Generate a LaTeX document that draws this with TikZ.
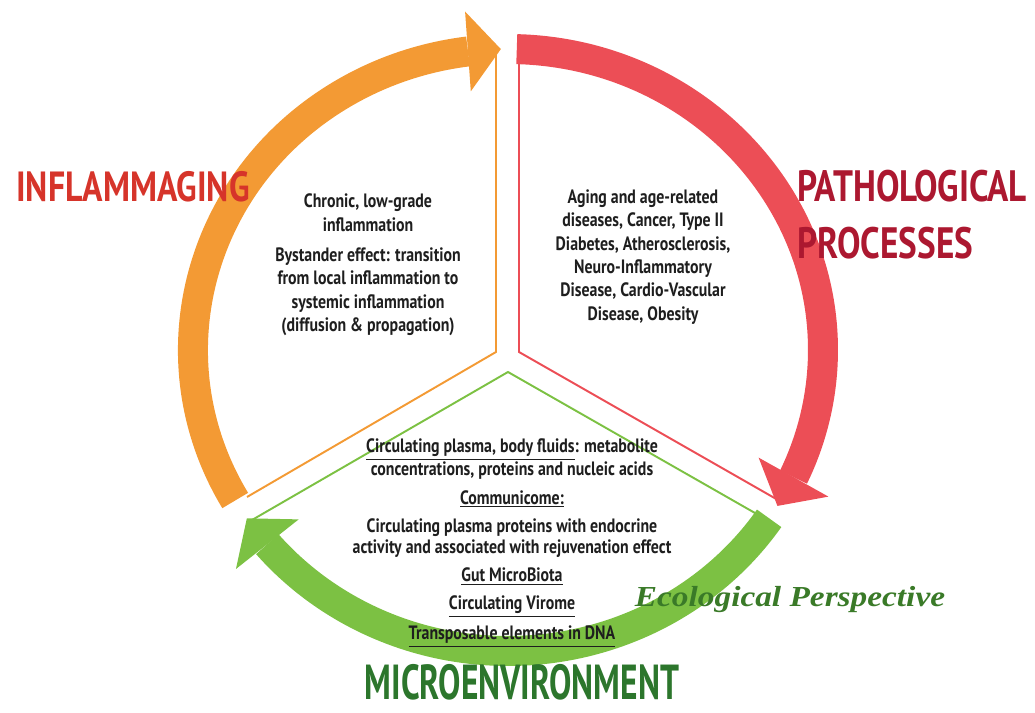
\documentclass[tikz,border=0pt]{standalone}
\usepackage{fontspec}
\setmainfont{PT Sans}
\newfontfamily\handfont[FakeStretch=0.82]{PT Sans}
\newfontfamily\titlefont[FakeStretch=0.8]{PT Sans}
\newfontfamily\narrowtitlefont[FakeStretch=0.68]{PT Sans}
\newfontfamily\ecofont[FakeStretch=1.15]{Liberation Serif}
\usetikzlibrary{arrows.meta,bending,positioning,calc}
\usepackage{xcolor}
\definecolor{inflamorange}{RGB}{243,154,52}
\definecolor{pathred}{RGB}{236,78,86}
\definecolor{microgreen}{RGB}{124,193,67}
\definecolor{titlered}{RGB}{214,52,42}
\definecolor{titlecrimson}{RGB}{172,24,48}
\definecolor{titlegreen}{RGB}{44,118,44}
\definecolor{ecogreen}{RGB}{58,122,40}
\definecolor{textgrey}{RGB}{30,30,30}

\begin{document}
\begin{tikzpicture}[x=0.02cm, y=0.02cm,
    band/.style={line width=0.6cm},
    head/.style={-{Triangle[width=1.6cm, length=0.66cm, line width=0pt, flex]}},
    rim/.style={line width=1.1pt},
    body/.style={font=\handfont\bfseries\fontsize{11}{13.3}\selectfont, text=textgrey, align=center},
    title/.style={font=\titlefont\bfseries\fontsize{24}{29}\selectfont, inner sep=0pt}]
    \useasboundingbox (-508,-363) rectangle (527,350);
    % thin outlines of the three sectors
    \coordinate (otop) at (-12,300);
    \coordinate (omid) at (-12,-2);
    \coordinate (oend) at (-261,-147);
    \coordinate (rtop) at (11,300);
    \coordinate (rmid) at (11,-2);
    \coordinate (rend) at (270,-150);
    \coordinate (gleft) at (-256,-170);
    \coordinate (gmid) at (0,-22);
    \coordinate (gright) at (254,-167);
    \draw[rim, inflamorange] (otop) -- (omid) -- (oend);
    \draw[rim, pathred] (rtop) -- (rmid) -- (rend);
    \draw[rim, microgreen] (gleft) -- (gmid) -- (gright);
    % the cycle
    \draw[band, head, inflamorange] (210:315 and 301) arc[start angle=210, end angle=91.3, x radius=315, y radius=301];
    \draw[band, head, pathred] (88.4:315 and 301) arc[start angle=88.4, end angle=-31.2, x radius=315, y radius=301];
    \draw[band, head, microgreen] (-34:315 and 301) arc[start angle=-34, end angle=-146, x radius=315, y radius=301];
    % texts
    \node[body] (chronic) at (-140,85) {Chronic, low-grade\\ inflammation\\[4pt]
        Bystander effect: transition\\ from local inflammation to\\ systemic inflammation\\ (diffusion \& propagation)};
    \node[body] (diseases) at (135,93) {Aging and age-related\\ diseases, Cancer, Type II\\ Diabetes, Atherosclerosis,\\
        Neuro-Inflammatory\\ Disease, Cardio-Vascular\\ Disease, Obesity};
    \node[body, font=\handfont\bfseries\fontsize{11}{12}\selectfont] (fluids) at (4,-193)
        {\underline{Circulating plasma, body fluids}: metabolite\\ concentrations, proteins and nucleic acids\\[4pt]
        \underline{Communicome:}\\[4pt]
        Circulating plasma proteins with endocrine\\ activity and associated with rejuvenation effect\\[4pt]
        \underline{Gut MicroBiota}\\[4pt] \underline{Circulating Virome}\\[4pt] \underline{Transposable elements in DNA}};
    \node[title, text=titlered] (inflammaging) at (-375,163) {INFLAMMAGING};
    \node[title, font=\titlefont\bfseries\fontsize{25}{29}\selectfont, text=titlecrimson, anchor=west] (pathological) at (289,164) {PATHOLOGICAL};
    \node[title, font=\titlefont\bfseries\fontsize{25}{29}\selectfont, text=titlecrimson, below=0.48cm of pathological.south west, anchor=north west] (processes) {PROCESSES};
    \node[font=\ecofont\bfseries\itshape\fontsize{16.5}{19}\selectfont, text=ecogreen] (ecological) at (282,-250) {Ecological Perspective};
    \node[title, font=\narrowtitlefont\bfseries\fontsize{28}{33}\selectfont, text=titlegreen] (microenvironment) at (14,-332) {MICROENVIRONMENT};
\end{tikzpicture}
\end{document}
